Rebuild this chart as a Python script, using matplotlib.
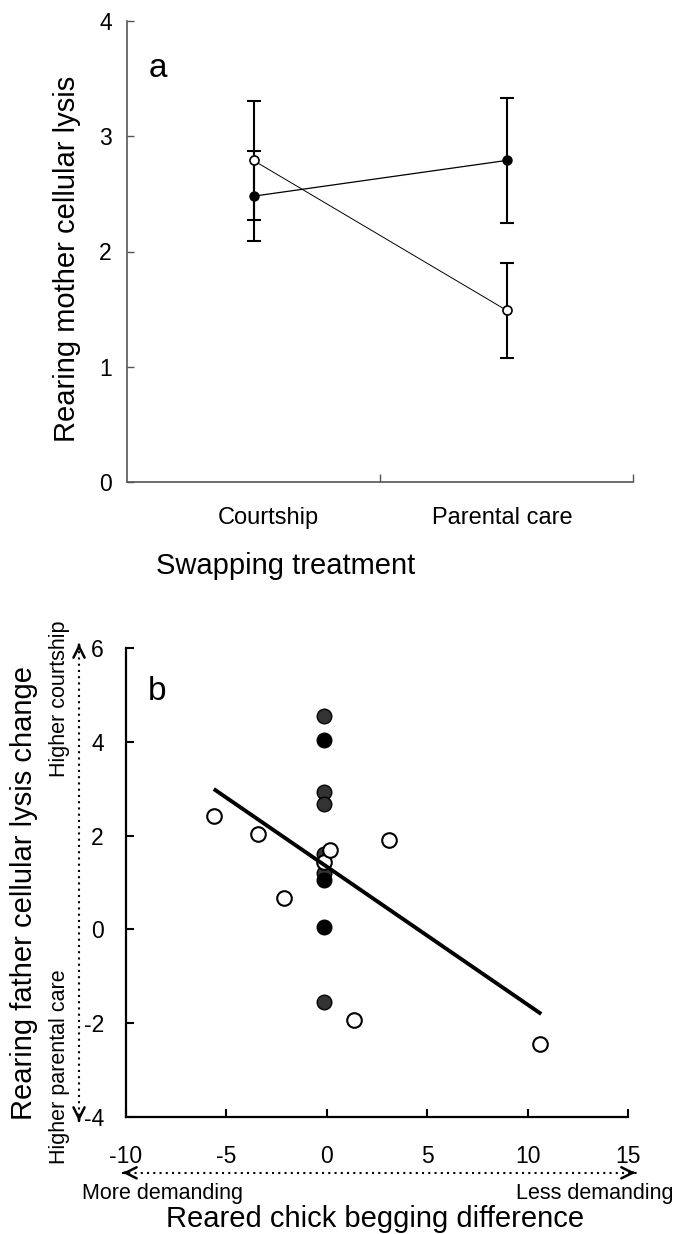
import matplotlib
matplotlib.use("Agg")
from matplotlib import pyplot as plt

plt.rcParams["font.family"] = ["Liberation Sans", "DejaVu Sans"]
plt.rcParams["axes.unicode_minus"] = False

# panel a: rearing mother cellular lysis (mean +- error)
treatments = ["Courtship", "Parental care"]
treat_pos = [0.5, 1.5]
filled_mean = [2.48, 2.79]
filled_err = [0.39, 0.54]
open_mean = [2.79, 1.49]
open_err = [0.52, 0.41]

# panel b: father lysis change vs chick begging difference
open_x = [-5.6, -3.45, -2.15, -0.15, 0.15, 3.12, 1.35, 10.6]
open_y = [2.42, 2.04, 0.66, 1.44, 1.69, 1.91, -1.94, -2.45]
gray_x = [-0.15, -0.15, -0.15, -0.15, -0.15, -0.15]
gray_y = [4.55, 2.93, 2.68, 1.6, 1.2, -1.55]
black_x = [-0.15, -0.15, -0.15]
black_y = [4.04, 1.05, 0.06]
fit_x = [-5.55, 10.6]
fit_y = [2.97, -1.78]

W, H = 676, 1234


def px(x, y):
    # pixel position -> figure fraction
    return x / W, 1 - y / H


fig = plt.figure(figsize=(W / 100, H / 100), dpi=100)

# ---------- panel a ----------
ax1 = fig.add_axes([127 / W, 1 - 482 / H, 506 / W, 461 / H])
ax1.errorbar(treat_pos, filled_mean, yerr=filled_err, fmt="none", ecolor="black",
             elinewidth=1.5, capsize=5, capthick=1.5, zorder=2)
ax1.errorbar(treat_pos, open_mean, yerr=open_err, fmt="none", ecolor="black",
             elinewidth=1.5, capsize=5, capthick=1.5, zorder=2)
ax1.plot(treat_pos, filled_mean, "-o", color="black", lw=0.9, ms=6.5,
         mfc="black", mec="black", zorder=3)
ax1.plot(treat_pos, open_mean, "-o", color="black", lw=0.7, ms=6.5,
         mfc="white", mec="black", mew=1.2, zorder=4)
ax1.set_xlim(0, 2)
ax1.set_ylim(0, 4)
ax1.set_yticks([0, 1, 2, 3, 4])
ax1.set_xticks([1, 2])
ax1.set_xticklabels([])
ax1.tick_params(axis="y", direction="in", length=5, width=1, pad=11,
                labelsize=16.5, color="#555555")
ax1.tick_params(axis="x", direction="in", length=6, width=1, color="#555555")
for s in ["top", "right"]:
    ax1.spines[s].set_visible(False)
for s in ["left", "bottom"]:
    ax1.spines[s].set_color("#555555")
    ax1.spines[s].set_linewidth(1.2)
ax1.text(0.061, 0.898, "a", transform=ax1.transAxes, fontsize=24,
         ha="center", va="center")

fig.text(*px(268.6, 518), treatments[0], fontsize=17, ha="center", va="center")
fig.text(*px(502, 518), treatments[1], fontsize=17, ha="center", va="center")
fig.text(*px(286, 566), "Swapping treatment", fontsize=21, ha="center", va="center")
fig.text(*px(67, 259), "Rearing mother cellular lysis", fontsize=21,
         rotation=90, ha="center", va="center")

# ---------- panel b ----------
ax2 = fig.add_axes([126 / W, 1 - 1117 / H, 502 / W, 469 / H])
ax2.plot(gray_x, gray_y, "o", ms=10.5, mfc="#333333", mec="black", mew=1, zorder=3)
ax2.plot(black_x, black_y, "o", ms=10.5, mfc="black", mec="black", mew=1, zorder=3)
ax2.plot(open_x, open_y, "o", ms=10.5, mfc="white", mec="black", mew=1.5, zorder=4)
ax2.plot(fit_x, fit_y, "-", color="black", lw=2.8, zorder=5)
ax2.set_xlim(-10, 15)
ax2.set_ylim(-4, 6)
ax2.set_xticks([-10, -5, 0, 5, 10, 15])
ax2.set_yticks([-4, -2, 0, 2, 4, 6])
ax2.tick_params(axis="x", direction="in", length=6, width=1.5, pad=20, labelsize=16.5)
ax2.tick_params(axis="y", direction="in", length=6, width=1.5, pad=16, labelsize=16.5)
for s in ["top", "right"]:
    ax2.spines[s].set_visible(False)
for s in ["left", "bottom"]:
    ax2.spines[s].set_linewidth(1.6)
ax2.text(0.062, 0.908, "b", transform=ax2.transAxes, fontsize=24,
         ha="center", va="center")

# dotted double arrows outside the axes
ax2.plot([-12.34, -12.34], [-4.1, 6.08], ls=(0, (1, 2)), color="black", lw=1.5,
         clip_on=False)
ax2.plot([-10.2, 15.45], [-5.19, -5.19], ls=(0, (1, 2)), color="black", lw=1.5,
         clip_on=False)
head = dict(arrowstyle="->", lw=1.8, color="black", mutation_scale=20)
ax2.annotate("", xy=(-12.34, 6.15), xytext=(-12.34, 6.0), arrowprops=head,
             annotation_clip=False)
ax2.annotate("", xy=(-12.34, -4.15), xytext=(-12.34, -4.0), arrowprops=head,
             annotation_clip=False)
ax2.annotate("", xy=(-10.3, -5.19), xytext=(-9.9, -5.19), arrowprops=head,
             annotation_clip=False)
ax2.annotate("", xy=(15.5, -5.19), xytext=(15.1, -5.19), arrowprops=head,
             annotation_clip=False)

fig.text(*px(59.5, 699), "Higher courtship", fontsize=15.5, rotation=90,
         ha="center", va="center")
fig.text(*px(59.5, 1067), "Higher parental care", fontsize=15.5, rotation=90,
         ha="center", va="center")
fig.text(*px(163, 1194), "More demanding", fontsize=15.5, ha="center", va="center")
fig.text(*px(595, 1194), "Less demanding", fontsize=15.5, ha="center", va="center")
fig.text(*px(375, 1219), "Reared chick begging difference", fontsize=21,
         ha="center", va="center")
fig.text(*px(24, 893), "Rearing father cellular lysis change", fontsize=21,
         rotation=90, ha="center", va="center")

fig.savefig("out.png", dpi=100)
